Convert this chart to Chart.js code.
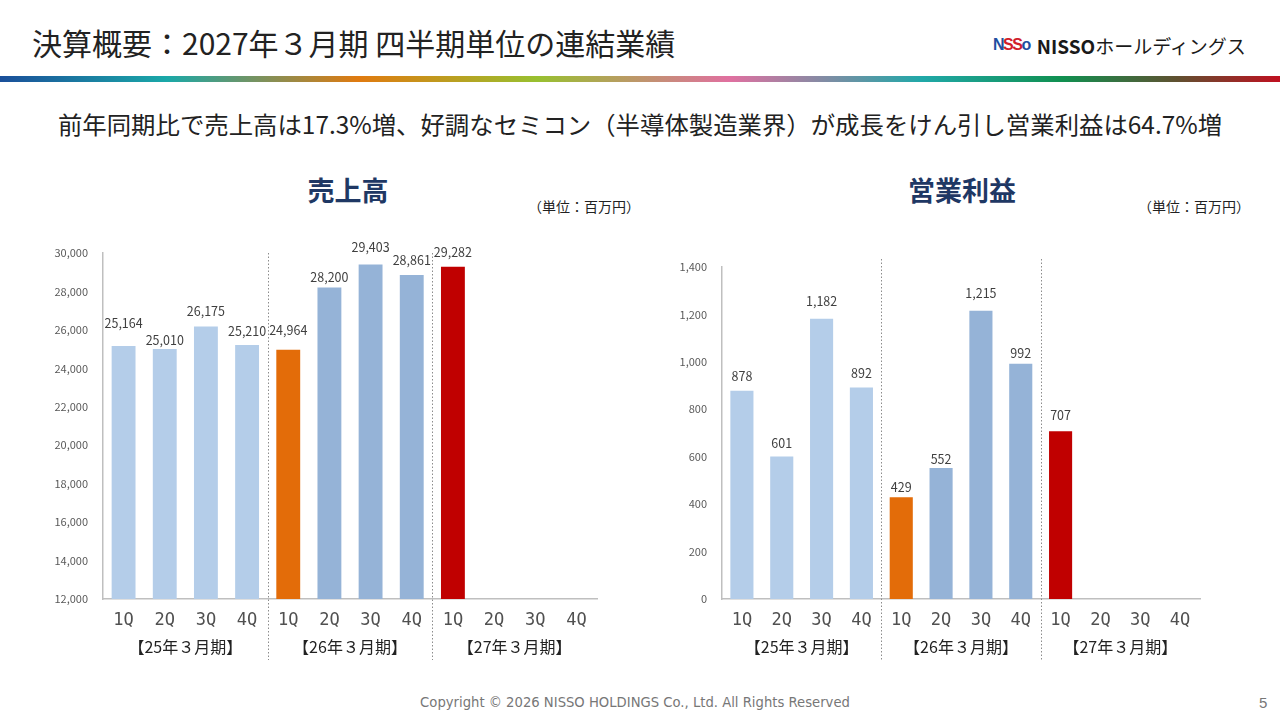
<!DOCTYPE html>
<html lang="ja">
<head>
<meta charset="utf-8">
<title>決算概要</title>
<script src="https://cdn.jsdelivr.net/npm/chart.js@4.4.1/dist/chart.umd.min.js"></script>
<style>
  html, body { margin: 0; padding: 0; background: #fff; }
  body { width: 1280px; height: 720px; position: relative; overflow: hidden;
         font-family: "Noto Sans CJK JP", "Noto Sans", sans-serif; color: #222; }
  .abs { position: absolute; white-space: nowrap; }
  #title { left: 32px; top: 22px; font-size: 30px; line-height: 40px; }
  #band { left: 0; top: 76px; width: 1280px; height: 6px;
          background: linear-gradient(90deg, #1a4f9a 0%, #1aa8a8 13%, #e07a10 28%, #98c030 42%,
                      #e070a0 57%, #20a8a8 72%, #109050 83%, #605030 92%, #c01020 100%); }
  #logo { left: 993px; top: 31px; height: 28px; display: flex; align-items: center; }
  #logo .mark { font-weight: 900; font-size: 16px; letter-spacing: -1.5px; margin-right: 7px;
                font-family: "Liberation Sans", sans-serif; }
  #logo .name { font-weight: 700; font-size: 19px; color: #1a1a1a; }
  #logo .kana { font-size: 19px; color: #1a1a1a; }
  #lead { left: 0; width: 1280px; top: 106px; text-align: center; font-size: 24.4px; line-height: 36px; }
  .ctitle { font-size: 27px; font-weight: 700; color: #1f3864; top: 172px; line-height: 36px;
            transform: translateX(-50%); }
  .unit { font-size: 14px; top: 197px; color: #222; line-height: 18px; }
  #foot { left: 0; width: 1270px; top: 695px; text-align: center; font-size: 13.2px; color: #777;
          font-family: "DejaVu Sans", sans-serif; }
  #page { left: 1259px; top: 694px; font-size: 15px; color: #777; font-family: "Liberation Sans", sans-serif; }
  canvas { position: absolute; }
</style>
</head>
<body>
<div class="abs" id="title">決算概要：2027年３月期 四半期単位の連結業績</div>
<div class="abs" id="logo"><span class="mark"><span style="color:#1f4fa0">N</span><span style="color:#d0202a">SS</span><span style="color:#1f4fa0">o</span></span><span class="name">NISSO</span><span class="kana">ホールディングス</span></div>
<div class="abs" id="band"></div>
<div class="abs" id="lead">前年同期比で売上高は17.3%増、好調なセミコン（半導体製造業界）が成長をけん引し営業利益は64.7%増</div>

<div class="abs ctitle" style="left:348px">売上高</div>
<div class="abs unit" style="left:528px">（単位：百万円）</div>
<div class="abs ctitle" style="left:962px">営業利益</div>
<div class="abs unit" style="left:1138px">（単位：百万円）</div>

<canvas id="salesChart" style="left:40px; top:236px; width:580px; height:434px;"></canvas>
<canvas id="profitChart" style="left:660px; top:236px; width:580px; height:434px;"></canvas>

<div class="abs" id="foot">Copyright © 2026 NISSO HOLDINGS Co., Ltd. All Rights Reserved</div>
<div class="abs" id="page">5</div>

<script>
// 四半期と期の区切り
const quarters = ['1Q', '2Q', '3Q', '4Q', '1Q', '2Q', '3Q', '4Q', '1Q', '2Q', '3Q', '4Q'];
const periods = ['【25年３月期】', '【26年３月期】', '【27年３月期】'];

// 売上高・営業利益（百万円）
const sales = [25164, 25010, 26175, 25210, 24964, 28200, 29403, 28861, 29282, null, null, null];
const profit = [878, 601, 1182, 892, 429, 552, 1215, 992, 707, null, null, null];

// 目盛り
const salesTicks = [12000, 14000, 16000, 18000, 20000, 22000, 24000, 26000, 28000, 30000];
const profitTicks = [0, 200, 400, 600, 800, 1000, 1200, 1400];

const barColors = ['#b4cde9', '#b4cde9', '#b4cde9', '#b4cde9', '#e36c09',
                   '#95b3d7', '#95b3d7', '#95b3d7', '#c00000', '#95b3d7', '#95b3d7', '#95b3d7'];

// 数値ラベルの持ち上げ量 (px)
const salesLift = [23, 9, 15, 14, 20, 10, 17, 15, 15];
const profitLift = [15, 13, 17, 14, 10, 9, 18, 11, 16];

const FONT = '"Noto Sans CJK JP", "Noto Sans", sans-serif';

// 数値ラベル・区切り線・期ラベル
const decor = {
    id: 'decor',
    afterDatasetsDraw(chart, args, opts) {
        const ctx = chart.ctx;
        const x = chart.scales.x;
        const area = chart.chartArea;
        const meta = chart.getDatasetMeta(0);
        ctx.save();
        ctx.font = '12.5px ' + FONT;
        ctx.fillStyle = '#404040';
        ctx.textAlign = 'center';
        ctx.textBaseline = 'middle';
        meta.data.forEach((bar, i) => {
            const v = chart.data.datasets[0].data[i];
            if (v == null) return;
            ctx.fillText(v.toLocaleString('en-US'), bar.x, bar.y - opts.lift[i]);
        });
        // 区切り線
        ctx.strokeStyle = '#8c8c8c';
        ctx.lineWidth = 1;
        ctx.setLineDash([1.5, 2]);
        [4, 8].forEach(k => {
            const px = Math.round((x.getPixelForTick(k - 1) + x.getPixelForTick(k)) / 2) + 0.5;
            ctx.beginPath();
            ctx.moveTo(px, area.top - opts.lineTop);
            ctx.lineTo(px, area.bottom + 61);
            ctx.stroke();
        });
        ctx.setLineDash([]);
        // 期ラベル
        ctx.font = '16px ' + FONT;
        ctx.fillStyle = '#222';
        periods.forEach((p, g) => {
            const cx = (x.getPixelForTick(g * 4) + x.getPixelForTick(g * 4 + 3)) / 2;
            ctx.fillText(p, cx, area.bottom + 48);
        });
        ctx.restore();
    }
};

function makeChart(id, values, ticks, lift, pad) {
    return new Chart(document.getElementById(id), {
        type: 'bar',
        data: {
            labels: quarters,
            datasets: [{
                data: values,
                backgroundColor: barColors,
                barPercentage: 0.58,
                categoryPercentage: 1.0
            }]
        },
        options: {
            responsive: false,
            animation: false,
            layout: { padding: { top: pad.top, right: pad.right, left: 0, bottom: 0 } },
            plugins: {
                legend: { display: false },
                tooltip: { enabled: false },
                decor: { lift: lift, lineTop: pad.lineTop }
            },
            scales: {
                x: {
                    grid: { display: false },
                    border: { display: true, color: '#bfbfbf', width: 1.5 },
                    ticks: { font: { size: 17, family: '"DejaVu Sans Mono", monospace' }, color: '#505050',
                             padding: 3, maxRotation: 0 },
                    afterFit(scale) { scale.height = 71; }
                },
                y: {
                    min: ticks[0],
                    max: ticks[ticks.length - 1],
                    grid: { display: false },
                    border: { display: true, color: '#bfbfbf', width: 1.5 },
                    afterBuildTicks(scale) { scale.ticks = ticks.map(v => ({ value: v })); },
                    ticks: {
                        font: { size: 11, family: FONT },
                        color: '#595959',
                        padding: 7,
                        callback: v => v.toLocaleString('en-US')
                    },
                    afterFit(scale) { scale.width = pad.left; }
                }
            }
        },
        plugins: [decor]
    });
}

function sizeCanvas(id) {
    const c = document.getElementById(id);
    c.width = 580; c.height = 434;
}
sizeCanvas('salesChart');
sizeCanvas('profitChart');

makeChart('salesChart', sales, salesTicks, salesLift, { top: 17, right: 23, left: 63, lineTop: 0 });
makeChart('profitChart', profit, profitTicks, profitLift, { top: 31, right: 40, left: 62, lineTop: 8 });
</script>
</body>
</html>
